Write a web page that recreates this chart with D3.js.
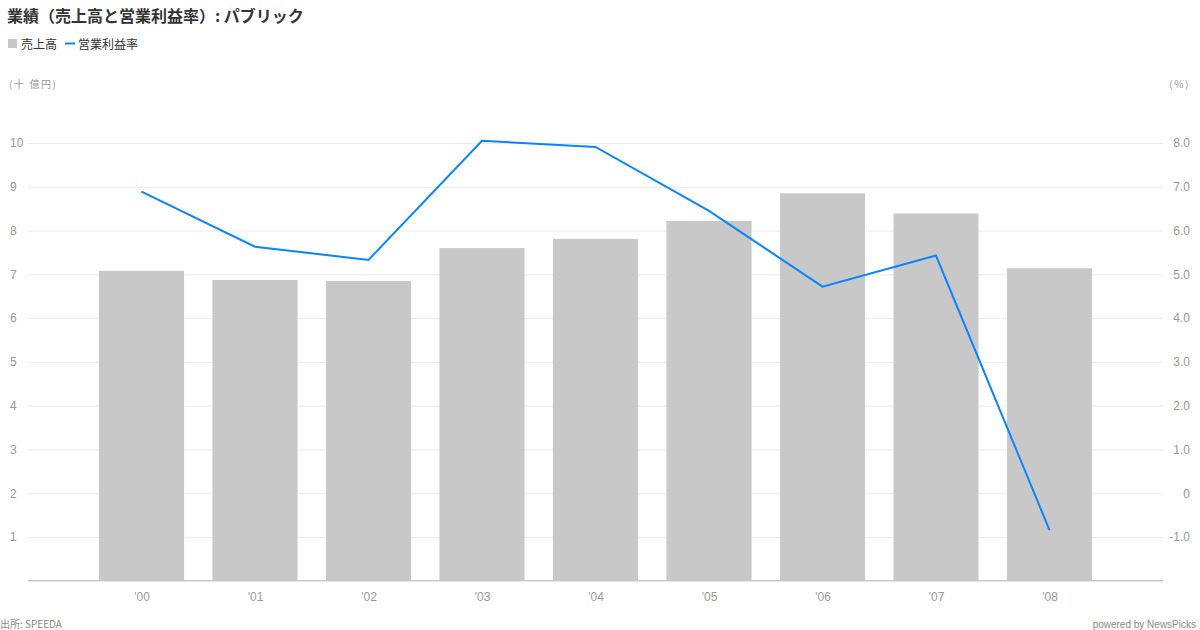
<!DOCTYPE html>
<html><head><meta charset="utf-8">
<script src="https://cdn.jsdelivr.net/npm/d3@7"></script>
<style>
body{margin:0;background:#fff;}
svg{display:block;font-family:"Noto Sans CJK JP","Liberation Sans",sans-serif;}
</style></head>
<body>
<svg id="c" width="1200" height="630"></svg>
<script>
const categories = ["'00","'01","'02","'03","'04","'05","'06","'07","'08"];
const sales = [7.08, 6.87, 6.85, 7.60, 7.81, 8.22, 8.85, 8.39, 7.14];
const margin = [6.89, 5.63, 5.33, 8.05, 7.91, 6.45, 4.72, 5.43, -0.84];
const leftTicks = [1,2,3,4,5,6,7,8,9,10];
const rightTicks = [-1,0,1,2,3,4,5,6,7,8];

const svg = d3.select("#c");
const x0 = 28, x1 = 1163, yTop = 143.0, yBot = 580.8;

const x = d3.scalePoint().domain(categories).range([x0, x1]).padding(1);
const yL = d3.scaleLinear().domain([0, 10]).range([yBot, yTop]);
const yR = d3.scaleLinear().domain([-2, 8]).range([yBot, yTop]);
const barW = x.step() * 0.75;

// title
svg.append("text").attr("x", 7).attr("y", 22).attr("font-size", 16).attr("font-weight", "bold")
  .attr("fill", "#333").text("業績（売上高と営業利益率）: パブリック");

// legend
svg.append("rect").attr("x", 8).attr("y", 39).attr("width", 9).attr("height", 9).attr("fill", "#c8c8c8");
svg.append("text").attr("x", 21).attr("y", 48.5).attr("font-size", 12).attr("fill", "#333").text("売上高");
svg.append("line").attr("x1", 65).attr("x2", 75).attr("y1", 43.5).attr("y2", 43.5).attr("stroke", "#0a84ff").attr("stroke-width", 2);
svg.append("text").attr("x", 78).attr("y", 48.5).attr("font-size", 12).attr("fill", "#333").text("営業利益率");

// unit labels
svg.append("text").attr("x", 9).attr("y", 88).attr("font-size", 10).attr("fill", "#999")
  .attr("letter-spacing", 1.6).text("(十 億円)");
svg.append("text").attr("x", 1190).attr("y", 88).attr("font-size", 10).attr("fill", "#999").attr("text-anchor", "end")
  .attr("letter-spacing", 1.6).text("(%)");

// grid
const gL = svg.append("g").attr("transform", `translate(${x0},0)`)
  .call(d3.axisLeft(yL).tickValues(leftTicks).tickSize(-(x1 - x0)).tickFormat(d3.format("d")));
gL.select(".domain").remove();
gL.selectAll(".tick line").attr("stroke", "#ebebeb");
gL.selectAll(".tick text").attr("x", -18).attr("text-anchor", "start").attr("font-size", 12)
  .attr("fill", "#999").attr("font-family", "'Liberation Sans',sans-serif");

const gR = svg.append("g").attr("transform", `translate(${x1},0)`)
  .call(d3.axisRight(yR).tickValues(rightTicks).tickSize(0)
    .tickFormat(d => d === 0 ? "0" : d3.format(".1f")(d).replace("\u2212", "-")));
gR.select(".domain").remove();
gR.selectAll(".tick text").attr("x", 27).attr("text-anchor", "end").attr("font-size", 12)
  .attr("fill", "#999").attr("font-family", "'Liberation Sans',sans-serif");

// bars
svg.append("g").selectAll("rect").data(sales).join("rect")
  .attr("x", (d, i) => x(categories[i]) - barW / 2)
  .attr("y", d => yL(d))
  .attr("width", barW)
  .attr("height", d => yL(0) - yL(d))
  .attr("fill", "#c8c8c8");

// baseline
svg.append("line").attr("x1", x0).attr("x2", x1).attr("y1", yBot).attr("y2", yBot)
  .attr("stroke", "#c8c8c8").attr("stroke-width", 1.5);

// x axis labels
const gX = svg.append("g").attr("transform", `translate(0,${yBot})`)
  .call(d3.axisBottom(x).tickSize(0));
gX.select(".domain").remove();
gX.selectAll(".tick text").attr("dy", 0).attr("y", 20).attr("font-size", 12).attr("fill", "#999")
  .attr("font-family", "'Liberation Sans',sans-serif");

// line
const line = d3.line().x((d, i) => x(categories[i])).y(d => yR(d));
svg.append("path").datum(margin).attr("d", line).attr("fill", "none")
  .attr("stroke", "#0a84ff").attr("stroke-width", 2).attr("stroke-linejoin", "miter");

// footer
svg.append("text").attr("x", 0).attr("y", 628).attr("font-size", 10).attr("fill", "#888").text("出所: SPEEDA");
svg.append("text").attr("x", 1196).attr("y", 628).attr("font-size", 10).attr("fill", "#888")
  .attr("text-anchor", "end").attr("font-family", "'Liberation Sans',sans-serif").text("powered by NewsPicks");
</script>
</body></html>
